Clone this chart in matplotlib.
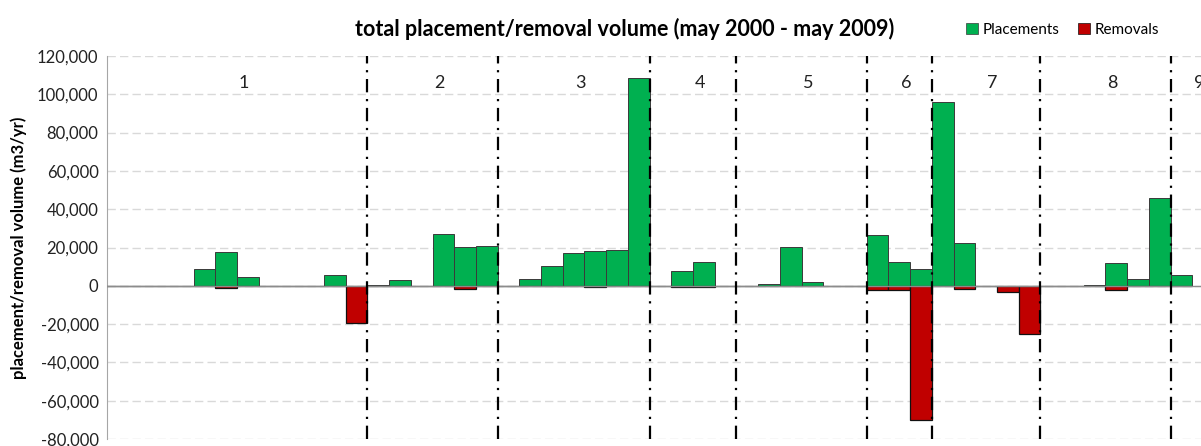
import numpy as np
import matplotlib.pyplot as plt
from matplotlib.ticker import FuncFormatter
from matplotlib.patches import Patch

# ── data (one value per year slot, m3/yr) ─────────────────
placements = [0, 0, 0, 0, 9000, 17400, 4700, 0, 0, 0,
              5400, 0, 500, 3000, 0, 26800, 20200, 20700, 0, 3500,
              10100, 17200, 18400, 18500, 108700, 0, 7800, 12500, 0, 0,
              1000, 20200, 1900, 0, 0, 26600, 12500, 8900, 96200, 22300,
              0, 0, 0, 0, 0, 500, 11800, 3500, 45800, 5700]
removals = [0, 0, 0, 0, 0, -1200, 0, 0, 0, 0,
            0, -19500, 0, 0, 0, 0, -1500, 0, 0, 0,
            0, 0, -500, 0, 0, 0, -400, -400, 0, 0,
            0, 0, 0, 0, 0, -2400, -2400, -69900, 0, -1700,
            0, -3100, -25000, 0, 0, 0, -2300, 0, 0, 0]
section_edges = [0, 12, 18, 25, 29, 35, 38, 43, 49, 51]
section_labels = ["1", "2", "3", "4", "5", "6", "7", "8", "9"]

GREEN = "#00B050"
RED = "#C00000"

plt.rcParams["font.family"] = ["Lato", "DejaVu Sans"]

fig = plt.figure(figsize=(12.01, 4.46), dpi=100)
ax = fig.add_axes([0.089, 0.0157, 0.911, 0.8587])

x = np.arange(len(placements)) + 0.5
ax.bar(x, placements, width=1.0, color=GREEN, edgecolor="#3a3a3a",
       linewidth=0.7, zorder=3)
ax.bar(x, removals, width=1.0, color=RED, edgecolor="#111111",
       linewidth=0.9, zorder=3)

ax.set_xlim(0, 50.4)
ax.set_ylim(-80000, 120000)
ax.set_yticks(np.arange(-80000, 120001, 20000))
ax.yaxis.set_major_formatter(FuncFormatter(lambda v, p: f"{int(v):,}"))
ax.tick_params(axis="y", length=0, labelsize=12, colors="#222222", pad=6)
ax.set_xticks([])

ax.grid(axis="y", color="#d9d9d9", linestyle=(0, (6, 3)), linewidth=1.0, zorder=0)
ax.axhline(0, color="#8c8c8c", linewidth=1.0, zorder=4)

for s in ["top", "right", "bottom"]:
    ax.spines[s].set_visible(False)
ax.spines["left"].set_color("#a6a6a6")

# section dividers and labels
for e in section_edges[1:-1]:
    ax.axvline(e, color="black", linestyle=(0, (6, 3, 1, 3)), linewidth=1.6, zorder=5)
for i, lab in enumerate(section_labels):
    cx = (section_edges[i] + section_edges[i + 1]) / 2 + 0.3
    ax.text(cx, 106000, lab, ha="center", va="center", fontsize=13, color="#222222")

ax.set_ylabel("placement/removal volume (m3/yr)", fontsize=12, fontweight="bold",
              labelpad=6)
ax.yaxis.set_label_coords(-0.073, 0.5)

fig.text(0.52, 0.935, "total placement/removal volume (may 2000 - may 2009)",
         ha="center", va="center", fontsize=15.5, fontweight="bold")

handles = [Patch(facecolor=GREEN, edgecolor="#3a3a3a", linewidth=0.5),
           Patch(facecolor=RED, edgecolor="#111111", linewidth=0.5)]
fig.legend(handles, ["Placements", "Removals"], loc="center",
           bbox_to_anchor=(0.885, 0.933), ncol=2, frameon=False, fontsize=11,
           handlelength=0.8, handleheight=0.8, handletextpad=0.3, columnspacing=1.2)

fig.savefig("out.png", dpi=100)
